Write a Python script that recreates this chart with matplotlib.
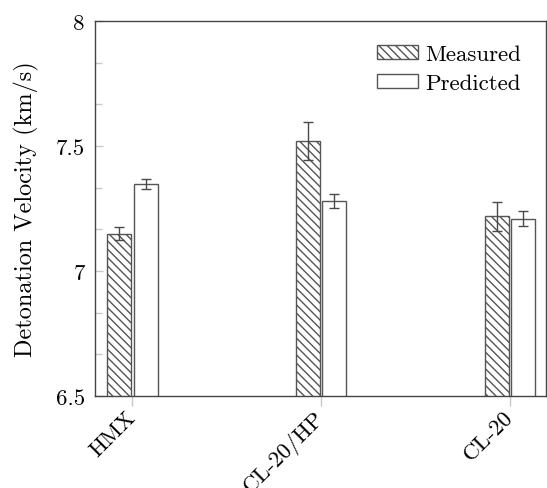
import numpy as np
import matplotlib
matplotlib.use("Agg")
import matplotlib.pyplot as plt
import matplotlib.transforms as mtransforms
from matplotlib.ticker import MultipleLocator

# data
materials = ["HMX", "CL-20/HP", "CL-20"]
measured = [7.15, 7.52, 7.22]
measured_err = [0.026, 0.076, 0.058]
predicted = [7.35, 7.28, 7.21]
predicted_err = [0.02, 0.028, 0.029]

plt.rcParams['font.family'] = ['cmr10', 'DejaVu Serif']
plt.rcParams['axes.formatter.use_mathtext'] = True
plt.rcParams['hatch.color'] = '#4a4a4a'
plt.rcParams['hatch.linewidth'] = 1.0

EDGE = '#555555'
TICK = '#c8c8c8'
FS = 16.5

fig = plt.figure(figsize=(5.47, 4.89), dpi=100)
ax = fig.add_axes([0.1728, 0.1881, 0.8254, 0.7669])

x = np.arange(len(materials))
width = 0.127
off = 0.07

err_style = dict(ecolor='#4a4a4a', elinewidth=1.0, capsize=3.6, capthick=1.0)
ax.bar(x - off, measured, width, yerr=measured_err, facecolor='white',
       edgecolor=EDGE, hatch='\\\\\\\\', linewidth=1.0, label='Measured',
       error_kw=err_style)
ax.bar(x + off, predicted, width, yerr=predicted_err, facecolor='white',
       edgecolor=EDGE, linewidth=1.0, label='Predicted',
       error_kw=err_style)

ax.set_xlim(-0.2, 2.19)
ax.set_ylim(6.5, 8.0)
ax.yaxis.set_minor_locator(MultipleLocator(0.5 / 3))
ax.set_yticks([6.5, 7.0, 7.5, 8.0])
ax.set_yticklabels(["6.5", "7", "7.5", "8"])

ax.set_xticks(x)
ax.set_xticklabels(materials, rotation=45, ha='right', va='center',
                   rotation_mode='anchor')
shift = mtransforms.ScaledTranslation(3 / 100, 0, fig.dpi_scale_trans)
for lbl in ax.get_xticklabels():
    lbl.set_transform(lbl.get_transform() + shift)

ax.tick_params(axis='x', which='major', direction='out', length=7,
               color=TICK, width=1.0, labelsize=FS, pad=6)
ax.tick_params(axis='y', which='major', direction='in', length=6,
               color=TICK, width=1.0, labelsize=FS, pad=7)
ax.tick_params(axis='y', which='minor', direction='in', length=5,
               color=TICK, width=1.0)

for s in ax.spines.values():
    s.set_color('#444444')
    s.set_linewidth(1.0)

ax.set_ylabel('Detonation Velocity (km/s)', fontsize=17.5, labelpad=12)

ax.legend(loc='upper right', frameon=False, fontsize=FS,
          handlelength=1.8, handleheight=0.57, handletextpad=0.3,
          labelspacing=0.42, borderaxespad=0.0, borderpad=0.0,
          bbox_to_anchor=(0.944, 0.937))

fig.savefig("out.png", dpi=100)
